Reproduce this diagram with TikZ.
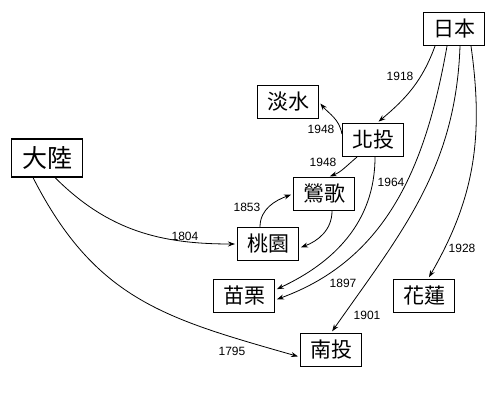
\documentclass[tikz,border=0pt]{standalone}
\usepackage{fontspec}
\setmainfont{Liberation Sans}
\newfontfamily\cjk{Noto Sans CJK TC}
\usetikzlibrary{arrows.meta}
\tikzset{
  town/.style={draw, line width=1.1pt, minimum width=61pt, minimum height=33pt, inner sep=0pt, font=\cjk\fontsize{21}{21}\selectfont},
  year/.style={font=\fontsize{12}{12}\selectfont, inner sep=0pt},
  move/.style={-{Stealth[length=7pt,width=5pt]}, line width=0.8pt, shorten >=2pt},
}
\begin{document}
\begin{tikzpicture}[x=1pt,y=1pt]
  \useasboundingbox (0,0) rectangle (500,-403);
  % places
  \node[town] (riben) at (454,-29) {日本};
  \node[town] (danshui) at (288,-102) {淡水};
  \node[town] (beitou) at (373,-140) {北投};
  \node[town] (yingge) at (324,-194) {鶯歌};
  \node[town] (taoyuan) at (268,-244) {桃園};
  \node[town] (miaoli) at (244,-296) {苗栗};
  \node[town] (hualien) at (424,-296) {花蓮};
  \node[town] (nantou) at (331,-350) {南投};
  \node[town, minimum width=71pt, minimum height=38pt, font=\cjk\fontsize{25}{25}\selectfont] (dalu) at (47,-158) {大陸};
  % years
  \node[year] (y1918) at (400,-76) {1918};
  \node[year] (y1948a) at (321,-129) {1948};
  \node[year] (y1948b) at (323,-162) {1948};
  \node[year] (y1964) at (391,-182) {1964};
  \node[year] (y1853) at (247,-207) {1853};
  \node[year] (y1804) at (185,-236) {1804};
  \node[year] (y1897) at (343,-283) {1897};
  \node[year] (y1901) at (367,-315) {1901};
  \node[year] (y1928) at (462,-248) {1928};
  \node[year] (y1795) at (232,-351) {1795};
  % moves
  \draw[move] ([xshift=-19pt]riben.south) to[out=-110,in=40] ([xshift=4pt]beitou.north);
  \draw[move] ([yshift=6pt]beitou.west) to[out=100,in=-50] (danshui.east);
  \draw[move] ([xshift=-16pt]beitou.south) to[out=-140,in=20] ([xshift=4pt]yingge.north);
  \draw[move] ([xshift=2pt]beitou.south) to[out=-90,in=25] ([yshift=6pt]miaoli.east);
  \draw[move] ([xshift=-7pt]riben.south) to[out=-100,in=20] ([yshift=-4pt]miaoli.east);
  \draw[move] ([xshift=6pt]riben.south) to[out=-92,in=55] (nantou.north);
  \draw[move] ([xshift=17pt]riben.south) to[out=-82,in=60] ([xshift=4pt]hualien.north);
  \draw[move] ([xshift=8pt]dalu.south) to[out=-45,in=180] (taoyuan.west);
  \draw[move] ([xshift=-14pt]dalu.south) to[out=-63,in=164,looseness=1.1] ([yshift=-7pt]nantou.west);
  \draw[move] ([xshift=-8pt]taoyuan.north) to[out=90,in=-160] (yingge.west);
  \draw[move] ([xshift=8pt]yingge.south) to[out=-90,in=20] ([yshift=-4pt]taoyuan.east);
\end{tikzpicture}
\end{document}
